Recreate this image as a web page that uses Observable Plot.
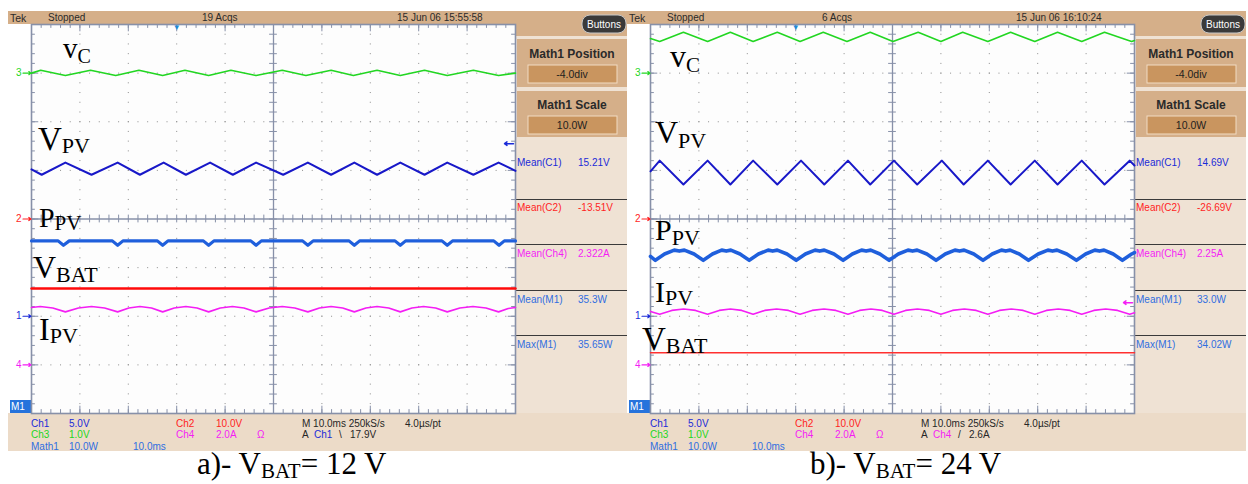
<!DOCTYPE html>
<html><head><meta charset="utf-8">
<script src="https://cdn.jsdelivr.net/npm/d3@7"></script>
<script src="https://cdn.jsdelivr.net/npm/@observablehq/plot@0.6"></script>
<style>
html,body{margin:0;padding:0;background:#fff;}
#root{position:relative;width:1248px;height:484px;overflow:hidden;}
#root svg.layer{position:absolute;left:0;top:0;}
.grat{position:absolute;top:24px;}
</style></head><body><div id="root"></div>
<script>
// ================= DATA (time in ms, 10 ms/div; amplitude in screen divisions, 0 = centre) =================
// ---- a) V_BAT = 12 V ----
const vcA_t  = [0, 1.9, 7.0, 12.2, 17.4, 22.2, 27.1, 31.7, 36.6, 41.2, 46.4, 51.8, 56.7, 61.9, 66.5, 71.4, 76.2, 81.2, 85.9, 91.3, 96.5, 100];
const vcA_v  = [3.0, 3.06, 2.95, 3.06, 2.95, 3.06, 2.95, 3.06, 2.95, 3.06, 2.95, 3.06, 2.95, 3.06, 2.95, 3.06, 2.95, 3.06, 2.95, 3.06, 2.95, 3.0];
const vpvA_t = [0, 2.1, 7.0, 12.4, 17.8, 22.4, 27.3, 31.9, 36.9, 41.6, 46.4, 52.0, 57.1, 61.9, 66.7, 71.4, 76.2, 81.2, 85.9, 91.3, 96.5, 100];
const vpvA_v = [1.02, 0.91, 1.16, 0.91, 1.16, 0.91, 1.16, 0.91, 1.16, 0.91, 1.16, 0.91, 1.16, 0.91, 1.16, 0.91, 1.16, 0.91, 1.16, 0.91, 1.16, 0.99];
const ppvA_t = [0, 5.5, 6.6, 7.8, 16.7, 17.8, 18.9, 26.0, 27.1, 28.2, 35.5, 36.6, 37.7, 45.3, 46.4, 47.5, 56.0, 57.1, 58.2, 65.6, 66.7, 67.8, 75.1, 76.2, 77.3, 84.8, 85.9, 87.0, 95.5, 96.6, 97.7, 100];
const ppvA_v = [-0.45, -0.45, -0.54, -0.45, -0.45, -0.54, -0.45, -0.45, -0.54, -0.45, -0.45, -0.54, -0.45, -0.45, -0.54, -0.45, -0.45, -0.54, -0.45, -0.45, -0.54, -0.45, -0.45, -0.54, -0.45, -0.45, -0.54, -0.45, -0.45, -0.54, -0.45, -0.45];
const vbatA_t = [0, 100];
const vbatA_v = [-1.43, -1.43];
const ipvA_t = [0, 1.8, 4.4, 7.0, 9.7, 12.4, 15.1, 17.8, 20.1, 22.4, 24.8, 27.1, 29.5, 31.9, 34.2, 36.6, 39.0, 41.5, 43.9, 46.4, 49.1, 51.8, 54.4, 57.1, 59.5, 61.9, 64.3, 66.7, 69.1, 71.4, 73.8, 76.2, 78.6, 81.0, 83.5, 85.9, 88.5, 91.2, 93.9, 96.5, 98.5, 100];
const ipvA_v = [-1.82, -1.80, -1.83, -1.91, -1.83, -1.80, -1.83, -1.91, -1.83, -1.80, -1.83, -1.91, -1.83, -1.80, -1.83, -1.91, -1.83, -1.80, -1.83, -1.91, -1.83, -1.80, -1.83, -1.91, -1.83, -1.80, -1.83, -1.91, -1.83, -1.80, -1.83, -1.91, -1.83, -1.80, -1.83, -1.91, -1.83, -1.80, -1.83, -1.91, -1.84, -1.82];

// ---- b) V_BAT = 24 V ----
const vcB_t  = [0, 1.9, 6.8, 11.8, 16.5, 21.2, 26.2, 30.9, 35.7, 40.6, 45.4, 50.1, 55.3, 60.0, 64.5, 69.7, 74.4, 79.4, 84.1, 89.1, 93.8, 99.4, 100];
const vcB_v  = [3.71, 3.65, 3.84, 3.65, 3.84, 3.65, 3.84, 3.65, 3.84, 3.65, 3.84, 3.65, 3.84, 3.65, 3.84, 3.65, 3.84, 3.65, 3.84, 3.65, 3.84, 3.65, 3.67];
const vpvB_t = [0, 1.9, 6.8, 11.8, 16.5, 21.2, 26.2, 31.1, 35.9, 40.8, 45.4, 50.3, 55.1, 60.2, 64.7, 69.7, 74.4, 79.4, 84.1, 89.1, 93.8, 99.0, 100];
const vpvB_v = [0.98, 1.20, 0.71, 1.20, 0.71, 1.20, 0.71, 1.20, 0.71, 1.20, 0.71, 1.20, 0.71, 1.20, 0.71, 1.20, 0.71, 1.20, 0.71, 1.20, 0.71, 1.20, 1.10];
const ppvB_t = [0, 1.0, 2.9, 4.9, 5.95, 7.0, 9.0, 10.9, 12.8, 14.7, 15.65, 16.6, 18.5, 20.4, 22.3, 24.3, 25.25, 26.2, 28.2, 30.1, 32.0, 34.0, 34.95, 35.9, 37.9, 39.8, 41.7, 43.6, 44.55, 45.5, 47.4, 49.3, 51.2, 53.2, 54.15, 55.1, 57.1, 59.0, 60.9, 62.9, 63.85, 64.8, 66.8, 68.7, 70.6, 72.5, 73.4, 74.3, 76.2, 78.1, 80.1, 82.1, 83.05, 84.0, 86.0, 88.0, 89.9, 91.8, 92.75, 93.7, 95.6, 97.5, 99.4, 100];
const ppvB_v = [-0.77, -0.85, -0.72, -0.64, -0.66, -0.64, -0.72, -0.85, -0.72, -0.64, -0.66, -0.64, -0.72, -0.85, -0.72, -0.64, -0.66, -0.64, -0.72, -0.85, -0.72, -0.64, -0.66, -0.64, -0.72, -0.85, -0.72, -0.64, -0.66, -0.64, -0.72, -0.85, -0.72, -0.64, -0.66, -0.64, -0.72, -0.85, -0.72, -0.64, -0.66, -0.64, -0.72, -0.85, -0.72, -0.64, -0.66, -0.64, -0.72, -0.85, -0.72, -0.64, -0.66, -0.64, -0.72, -0.85, -0.72, -0.64, -0.66, -0.64, -0.72, -0.85, -0.72, -0.69];
const vbatB_t = [0, 100];
const vbatB_v = [-2.75, -2.75];
const ipvB_t = [0, 1.9, 4.4, 6.85, 9.3, 11.8, 14.2, 16.5, 18.85, 21.2, 23.6, 26.05, 28.5, 30.9, 33.4, 35.85, 38.3, 40.8, 43.2, 45.55, 47.9, 50.3, 52.7, 55.15, 57.6, 60.0, 62.4, 64.85, 67.3, 69.7, 72.1, 74.55, 77.0, 79.4, 81.8, 84.25, 86.7, 89.1, 91.6, 94.05, 96.5, 99.0, 100];
const ipvB_v = [-1.90, -1.96, -1.88, -1.85, -1.88, -1.96, -1.88, -1.85, -1.88, -1.96, -1.88, -1.85, -1.88, -1.96, -1.88, -1.85, -1.88, -1.96, -1.88, -1.85, -1.88, -1.96, -1.88, -1.85, -1.88, -1.96, -1.88, -1.85, -1.88, -1.96, -1.88, -1.85, -1.88, -1.96, -1.88, -1.85, -1.88, -1.96, -1.88, -1.85, -1.88, -1.96, -1.93];

// ---- channel reference markers & trigger ----
const chanLabels  = ["3", "2", "1", "4"];
const chanOffsets = [3, 0, -2, -3];
const trigPosition = [30];          // ms
const trigLevelA = [1.55];          // div (Ch1)
const trigLevelB = [-1.72];         // div (Ch4)

// ---- texts ----
const topBarA = ["Tek", "Stopped", "19 Acqs", "15 Jun 06 15:55:58"];
const topBarB = ["Tek", "Stopped", "6 Acqs", "15 Jun 06 16:10:24"];
const mathPanel = ["Math1 Position", "-4.0div", "Math1 Scale", "10.0W"];
const measLabels = ["Mean(C1)", "Mean(C2)", "Mean(Ch4)", "Mean(M1)", "Max(M1)"];
const measA = ["15.21V", "-13.51V", "2.322A", "35.3W", "35.65W"];
const measB = ["14.69V", "-26.69V", "2.25A", "33.0W", "34.02W"];
const setupRow1 = ["Ch1", "5.0V", "Ch2", "10.0V", "M 10.0ms 250kS/s", "4.0\u00b5s/pt"];
const setupRow2 = ["Ch3", "1.0V", "Ch4", "2.0A", "\u03a9", "A"];
const setupRow3 = ["Math1", "10.0W", "10.0ms"];
const trigTextA = ["Ch1", "\\", "17.9V"];
const trigTextB = ["Ch4", "/", "2.6A"];
const traceNames = [["v", "C"], ["V", "PV"], ["P", "PV"], ["V", "BAT"], ["I", "PV"]];
const captionA = ["a)- V", "BAT", "= 12 V"];
const captionB = ["b)- V", "BAT", "= 24 V"];

// ================= STYLE =================
const C1 = "#1a2ad8", C2 = "#ff1e1e", C3 = "#22d622", C4 = "#f41ef4", M1 = "#2f6ee0";
const chanColors = [C3, C2, C1, C4];
const TAN = "#d5af89", LIGHT = "#efe2d4", BOTTOM = "#ecdbc8", BOX = "#c9955f";
const GW = 484, GH = 389;

const scopes = [
  {ox: 0, top: topBarA, meas: measA, trig: trigTextA, trigCol: C1, lvl: trigLevelA, lvlCol: C1, cap: captionA, capX: 197,
   traces: [[vcA_t, vcA_v, C3, 1.6], [vpvA_t, vpvA_v, "#1818c8", 2], [vbatA_t, vbatA_v, "#ff0a0a", 2.4], [ipvA_t, ipvA_v, C4, 1.6], [ppvA_t, ppvA_v, "#1f5fdc", 3.2]],
   labels: [[63, 58, 29, 20, 5], [38, 150, 33, 22, 3], [39, 227, 28, 21, 3], [33, 278, 32, 22, 4], [39, 340, 32, 22, 3]]},
  {ox: 619, top: topBarB, meas: measB, trig: trigTextB, trigCol: C4, lvl: trigLevelB, lvlCol: C4, cap: captionB, capX: 810,
   traces: [[vcB_t, vcB_v, C3, 1.6], [vpvB_t, vpvB_v, "#1818c8", 2], [vbatB_t, vbatB_v, "#ff3030", 1.5], [ipvB_t, ipvB_v, C4, 1.6], [ppvB_t, ppvB_v, "#1f5fdc", 3.6]],
   labels: [[670 - 619, 67, 32, 21, 5], [655 - 619, 143, 32, 22, 5], [655 - 619, 240, 30, 22, 5], [642 - 619, 350, 33, 22, 3], [655 - 619, 302, 30, 22, 3]]}
];

const root = d3.select("#root");
const FONT = "'Liberation Sans', Arial, sans-serif";
const bg = root.append("svg").attr("class", "layer").attr("width", 1248).attr("height", 484).attr("font-family", FONT);

function txt(g, x, y, s, o = {}) {
  return g.append("text").attr("x", x).attr("y", y).attr("dominant-baseline", "central")
    .attr("font-size", o.size || 10).attr("fill", o.fill || "#262626")
    .attr("font-weight", o.weight || null).attr("text-anchor", o.anchor || "start").text(s);
}

function frame(s) {
  const ox = s.ox, g = bg.append("g");
  g.append("rect").attr("x", 8 + ox).attr("y", 11).attr("width", 619).attr("height", 13).attr("fill", TAN);
  g.append("rect").attr("x", 514 + ox).attr("y", 24).attr("width", 113).attr("height", 389).attr("fill", LIGHT);
  g.append("rect").attr("x", 514 + ox).attr("y", 24).attr("width", 113).attr("height", 12).attr("fill", TAN);
  g.append("rect").attr("x", 517 + ox).attr("y", 39).attr("width", 110).attr("height", 48).attr("fill", TAN);
  g.append("rect").attr("x", 517 + ox).attr("y", 91).attr("width", 110).attr("height", 46).attr("fill", TAN);
  for (const y of [65, 116]) {
    g.append("rect").attr("x", 528 + ox).attr("y", y).attr("width", 89).attr("height", 18).attr("fill", BOX)
      .attr("stroke", "#f2dcc3").attr("stroke-width", 1);
  }
  for (const y of [199, 244, 290, 335]) {
    g.append("line").attr("x1", 514 + ox).attr("x2", 627 + ox).attr("y1", y + 0.5).attr("y2", y + 0.5).attr("stroke", "#3a3a3a");
  }
  g.append("rect").attr("x", 8 + ox).attr("y", 413).attr("width", 619).attr("height", 38).attr("fill", BOTTOM);
  // Buttons pill
  g.append("rect").attr("x", 582 + ox).attr("y", 15).attr("width", 44).attr("height", 18).attr("rx", 8)
    .attr("fill", "#3a3a3a").attr("stroke", "#c8c8c8");
  txt(g, 604 + ox, 24, "Buttons", {fill: "#fff", anchor: "middle"});
  // M1 box
  g.append("rect").attr("x", 10 + ox).attr("y", 400).attr("width", 21).attr("height", 13).attr("fill", "#2673dc");
  txt(g, 11 + ox, 406.5, "M1", {fill: "#fff", size: 10});
  // top bar
  const tb = [10, 48, s.top[2].length < 7 ? 822 - 619 : 202, 397];
  s.top.forEach((t, i) => txt(g, tb[i] + ox, 17.5, t, {fill: "#2a2a2a", size: i === 0 ? 10.5 : 10}));
  // math panel
  txt(g, 572 + ox, 54, mathPanel[0], {weight: "bold", size: 12, anchor: "middle", fill: "#2a2a2a"});
  txt(g, 572 + ox, 74, mathPanel[1], {size: 10.5, anchor: "middle", fill: "#1e1e1e"});
  txt(g, 572 + ox, 105, mathPanel[2], {weight: "bold", size: 12, anchor: "middle", fill: "#2a2a2a"});
  txt(g, 572 + ox, 125, mathPanel[3], {size: 10.5, anchor: "middle", fill: "#1e1e1e"});
  // measurements
  const mcol = [C1, C2, C4, M1, M1], my = [162, 207, 253, 299, 344];
  measLabels.forEach((m, i) => {
    txt(g, 517 + ox, my[i], m, {fill: mcol[i]});
    txt(g, 578 + ox, my[i], s.meas[i], {fill: mcol[i]});
  });
  // setup rows
  const r1 = [31, 69, 176, 216, 302, 405], c1 = [C1, C1, C2, C2, "#262626", "#262626"];
  setupRow1.forEach((t, i) => txt(g, r1[i] + ox, 423, t, {fill: c1[i]}));
  const r2 = [31, 69, 176, 216, 257, 302], c2 = [C3, C3, C4, C4, C4, "#262626"];
  setupRow2.forEach((t, i) => txt(g, r2[i] + ox, 434.5, t, {fill: c2[i]}));
  const tr = [314, 339, 350];
  s.trig.forEach((t, i) => txt(g, tr[i] + ox, 434.5, t, {fill: i === 0 ? s.trigCol : "#262626"}));
  const r3 = [31, 69, 133];
  setupRow3.forEach((t, i) => txt(g, r3[i] + ox, 446, t, {fill: M1}));
}

function graticule(s) {
  const gcol = "#8790a8";
  const minorX = d3.range(0, 100.001, 2), majorX = d3.range(0, 100.001, 10);
  const minorY = d3.range(-4, 4.0001, 0.2), majorY = d3.range(-4, 4.0001, 1);
  const tx = 0.8, txM = 1.5, ty = 0.08, tyM = 0.15;
  const gridX = [10, 20, 30, 40, 60, 70, 80, 90], gridY = [-3, -2, -1, 1, 2, 3];
  const pxMs = 100 / GW;  // ms per pixel
  const marks = [
    Plot.ruleY(gridY, {stroke: "#8c8c8c", strokeDasharray: `1 ${(GW / 50 - 1).toFixed(2)}`}),
    Plot.ruleX(gridX, {stroke: "#8c8c8c", strokeDasharray: `1 ${(GH / 40 - 1).toFixed(2)}`}),
    Plot.ruleY([0], {stroke: gcol, strokeWidth: 1.3}),
    Plot.ruleX([50], {stroke: gcol, strokeWidth: 1.3}),
    Plot.frame({stroke: gcol, strokeWidth: 1.6}),
    // ticks on edges and centre lines
    Plot.ruleX(minorX, {y1: () => 4, y2: () => 4 - ty, stroke: gcol}),
    Plot.ruleX(majorX, {y1: () => 4, y2: () => 4 - tyM, stroke: gcol}),
    Plot.ruleX(minorX, {y1: () => -4, y2: () => -4 + ty, stroke: gcol}),
    Plot.ruleX(majorX, {y1: () => -4, y2: () => -4 + tyM, stroke: gcol}),
    Plot.ruleX(minorX, {y1: () => -ty, y2: () => ty, stroke: gcol}),
    Plot.ruleY(minorY, {x1: () => 0, x2: () => tx, stroke: gcol}),
    Plot.ruleY(majorY, {x1: () => 0, x2: () => txM, stroke: gcol}),
    Plot.ruleY(minorY, {x1: () => 100, x2: () => 100 - tx, stroke: gcol}),
    Plot.ruleY(majorY, {x1: () => 100, x2: () => 100 - txM, stroke: gcol}),
    Plot.ruleY(minorY, {x1: () => 50 - tx, x2: () => 50 + tx, stroke: gcol}),
    // traces
    ...s.traces.map(([t, v, col, w]) => Plot.line(v, {x: t, y: v, stroke: col, strokeWidth: w, strokeLinejoin: "round"})),
    // channel reference markers (number + small arrow)
    ...chanOffsets.map((o, i) => Plot.text([o], {x: () => 0, y: d => d, text: () => chanLabels[i], fill: chanColors[i], textAnchor: "end", dx: -10, fontSize: 10})),
    ...chanOffsets.map((o, i) => Plot.arrow([o], {x1: () => -8.5 * pxMs, x2: () => -0.5 * pxMs, y1: d => d, y2: d => d, stroke: chanColors[i], strokeWidth: 1.2, headLength: 4, headAngle: 70})),
    // trigger position & level
    Plot.text(trigPosition, {x: d => d, y: () => 4, text: () => "\u25bc", fill: "#1c8bd6", fontSize: 8, dy: 3}),
    Plot.arrow(s.lvl, {x1: () => 100 - 2 * pxMs, x2: () => 100 - 11 * pxMs, y1: d => d, y2: d => d, stroke: s.lvlCol, strokeWidth: 1.5, headLength: 5, headAngle: 70})
  ];
  return Plot.plot({
    width: GW, height: GH, margin: 0,
    x: {domain: [0, 100], axis: null},
    y: {domain: [-4, 4], axis: null},
    style: {background: "#fdfdfd", overflow: "visible", fontFamily: FONT},
    marks
  });
}

scopes.forEach(frame);
scopes.forEach(s => {
  const div = root.append("div").attr("class", "grat").style("left", (31 + s.ox) + "px");
  div.node().appendChild(graticule(s));
});

const fg = root.append("svg").attr("class", "layer").attr("width", 1248).attr("height", 484)
  .attr("font-family", "'Liberation Serif', 'Times New Roman', serif");
scopes.forEach(s => {
  s.labels.forEach(([x, y, ms, ss, dy], i) => {
    const t = fg.append("text").attr("x", x + s.ox).attr("y", y).attr("font-size", ms).attr("fill", "#000");
    t.append("tspan").text(traceNames[i][0]);
    t.append("tspan").attr("font-size", ss).attr("dy", dy).text(traceNames[i][1]);
  });
  const c = fg.append("text").attr("x", s.capX).attr("y", 474).attr("font-size", 31).attr("fill", "#000");
  c.append("tspan").text(s.cap[0]);
  c.append("tspan").attr("font-size", 21).attr("dy", 4).text(s.cap[1]);
  c.append("tspan").attr("dy", -4).text(s.cap[2]);
});
</script></body></html>
